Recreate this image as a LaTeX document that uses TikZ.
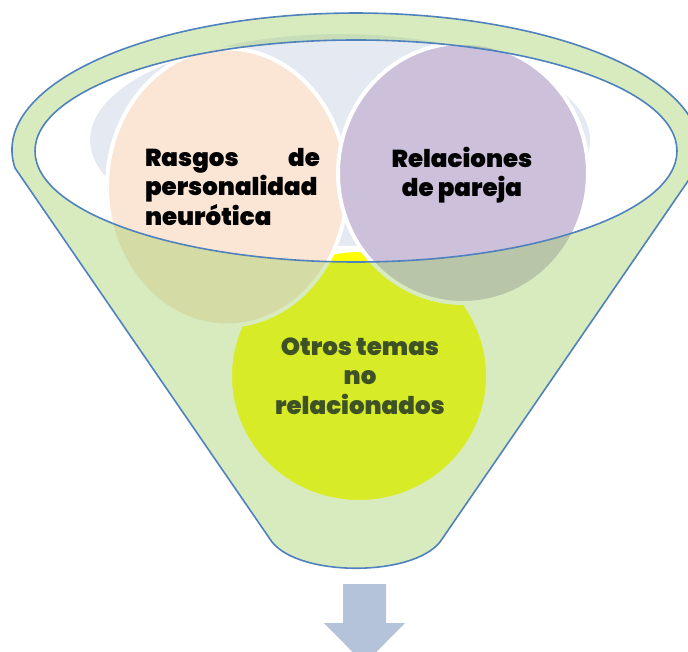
\documentclass[tikz,border=0pt]{standalone}
\usepackage{fontspec}
\setmainfont{DejaVu Sans}
\IfFontExistsTF{Poppins Black}
  {\newfontfamily\heavyfont{Poppins Black}}
  {\newfontfamily\heavyfont{DejaVu Sans Bold}[FakeBold=2]}
\usepackage{tikz}
\usetikzlibrary{shapes.geometric}
\definecolor{myblue}{HTML}{4F81BD}
\definecolor{mygrey}{HTML}{E4E9F2}
\definecolor{mypink}{HTML}{FBE5D5}
\definecolor{mypurple}{HTML}{CCC0DA}
\definecolor{myyellow}{HTML}{FFFF00}
\definecolor{mygreen}{RGB}{155,205,95}
\definecolor{myarrow}{HTML}{B4C2DA}
\tikzstyle{bubble} = [ellipse, draw=white, line width=4pt, inner sep=0pt]
\tikzstyle{bubbletext} = [font=\heavyfont\fontsize{24.5}{29.5}\selectfont, align=center, inner sep=0pt]
\tikzstyle{funnel} = [fill=mygreen, fill opacity=0.4, draw=myblue, line width=1.6pt, even odd rule]

\begin{document}
\begin{tikzpicture}[x=1pt, y=-1pt]
    \useasboundingbox (0,0) rectangle (688,652);

    % Nodes
    \node [bubble, fill=mygrey, minimum width=504pt, minimum height=216pt] (fondo) at (340,140) {};
    \node [bubble, fill=myyellow, minimum width=258pt, minimum height=252pt] (otros) at (359,376) {};
    \node [bubble, fill=mypink, minimum width=240pt, minimum height=277pt] (rasgos) at (227,187) {};
    \node [bubble, fill=mypurple, minimum width=250pt, minimum height=260pt] (pareja) at (463,173) {};

    % texts
    \node [bubbletext, text width=175pt, align=left] (rasgos_txt) at (232.5,187) {Rasgos\hfill de\\personalidad\\neurótica};
    \node [bubbletext] (pareja_txt) at (462,175) {Relaciones\\de pareja};
    \node [bubbletext] (otros_txt) at (360,376) {Otros temas\\no\\relacionados};

    % funnel
    \coordinate (ring_left) at (14.94,167.9);
    \coordinate (cone_right) at (440,542);
    \coordinate (cone_left) at (272,542);
    \path [funnel] (ring_left) arc[start angle=172.5, end angle=367.5, x radius=344, y radius=137]
        -- (cone_right) .. controls (412,577) and (300,577) .. (cone_left) -- cycle
        (356,151) ellipse[x radius=321, y radius=111];

    % arrow
    \fill [myarrow] (343,584) -- (386,584) -- (386,623) -- (405,623) -- (364.5,664)
        -- (324,623) -- (343,623) -- cycle;

\end{tikzpicture}
\end{document}
